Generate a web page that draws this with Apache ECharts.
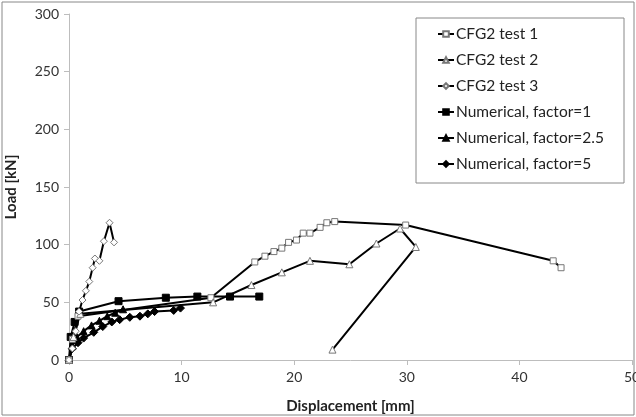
<!DOCTYPE html>
<html><head><meta charset="utf-8">
<script src="https://cdn.jsdelivr.net/npm/echarts@6/dist/echarts.min.js"></script>
<style>html,body{margin:0;padding:0;background:#fff}#c{width:636px;height:417px}</style>
</head><body><div id="c"></div>
<script>
const seriesNames = ["CFG2 test 1","CFG2 test 2","CFG2 test 3","Numerical, factor=1","Numerical, factor=2.5","Numerical, factor=5"];
const test1 = [[0,0],[0.3,18],[0.8,38],[12.6,54],[16.5,85],[17.4,90],[18.2,94],[18.9,97],[19.5,102],[20.2,104],[20.8,110],[21.4,110],[22.3,115],[22.9,119],[23.6,120],[29.9,117],[43.0,86],[43.7,80]];
const test2 = [[0,0],[0.4,20],[1.0,40],[12.8,50],[16.2,65],[18.9,76],[21.4,86],[24.9,83],[27.3,101],[29.4,114],[30.8,98],[23.4,9]];
const test3 = [[0,0],[0.3,10],[0.6,25],[0.9,42],[1.2,52],[1.5,60],[1.8,68],[2.1,80],[2.3,88],[2.7,86],[3.1,103],[3.6,119],[4.0,102]];
const num1 = [[0,0],[0.15,20],[0.5,33],[0.9,42],[4.4,51],[8.6,54],[11.4,55],[14.3,55],[16.9,55]];
const num25 = [[0,0],[0.3,12],[0.7,20],[1.3,25],[2.0,30],[2.7,34],[3.4,38],[4.1,41],[4.8,44]];
const num5 = [[0,0],[0.3,10],[0.8,15],[1.3,19],[2.2,24],[3.0,29],[3.8,33],[4.5,35],[5.4,37],[6.3,38],[7.0,40],[7.6,42],[9.3,43],[9.9,45]];
const xTicks = {min:0, max:50, interval:10};
const yTicks = {min:0, max:300, interval:50};

const datasets = [test1,test2,test3,num1,num25,num5];
const symbols = ['rect','triangle','diamond','rect','triangle','diamond'];
const hollow = [true,true,true,false,false,false];
const sizes = [6,7,7,7,7,8];

const chart = echarts.init(document.getElementById('c'), null, {renderer:'canvas'});
const font = 'Lato, "Open Sans", sans-serif';
chart.setOption({
  animation:false,
  backgroundColor:'#fff',
  grid:{left:69, right:4, top:14, bottom:57, containLabel:false, outerBoundsMode:'none'},
  xAxis:{type:'value', min:xTicks.min, max:xTicks.max, interval:xTicks.interval,
    name:'Displacement [mm]', nameLocation:'middle', nameGap:39,
    nameTextStyle:{fontFamily:font, fontWeight:'bold', fontSize:15, color:'#222'},
    axisLine:{lineStyle:{color:'#bdbdbd', width:1}},
    axisTick:{show:true, length:5, lineStyle:{color:'#bdbdbd'}},
    axisLabel:{fontFamily:font, fontSize:14, color:'#333', margin:10},
    splitLine:{show:false}},
  yAxis:{type:'value', min:yTicks.min, max:yTicks.max, interval:yTicks.interval,
    name:'Load [kN]', nameLocation:'middle', nameGap:50,
    nameTextStyle:{fontFamily:font, fontWeight:'bold', fontSize:15, color:'#222'},
    axisLine:{show:true, lineStyle:{color:'#bdbdbd', width:1}},
    axisTick:{show:true, length:5, lineStyle:{color:'#bdbdbd'}},
    axisLabel:{fontFamily:font, fontSize:14, color:'#333', margin:10},
    splitLine:{show:false}},
  legend:{orient:'vertical', left:432, top:21, itemGap:10, itemWidth:16, itemHeight:7,
    textStyle:{fontFamily:font, fontSize:15.5, color:'#222', padding:[0,0,0,-3]},
    data:seriesNames},
  graphic:[
    {type:'rect', shape:{x:416, y:18, width:208, height:165}, style:{fill:'none', stroke:'#888', lineWidth:1}, z:-1},
    {type:'rect', shape:{x:2, y:2, width:632, height:413}, style:{fill:'none', stroke:'#888', lineWidth:1}, z:-1}
  ],
  series: datasets.map((d,i)=>({
    name:seriesNames[i], type:'line', data:d, symbol:symbols[i], symbolSize:sizes[i],
    showAllSymbol:true,
    lineStyle:{color:'#000', width:2},
    itemStyle: hollow[i] ? {color:'#fff', borderColor:'#777', borderWidth:1} : {color:'#000', borderColor:'#000', borderWidth:1},
    z: hollow[i]?3:2
  }))
});
</script></body></html>
